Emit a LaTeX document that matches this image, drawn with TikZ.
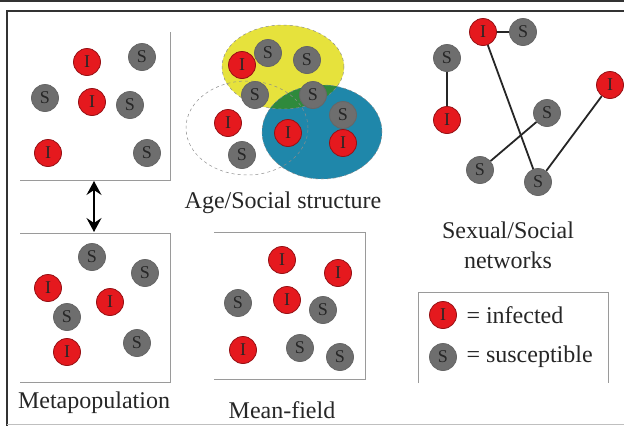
\documentclass[tikz,border=0pt]{standalone}
\usepackage{fontspec}
\setmainfont{Liberation Serif}
\usetikzlibrary{arrows.meta, positioning}
\definecolor{infRed}{HTML}{E5191E}
\definecolor{susGray}{HTML}{6E6E6E}
\definecolor{ageYellow}{HTML}{E6E23C}
\definecolor{ageBlue}{HTML}{1F87AA}
\definecolor{ageGreen}{HTML}{2F8A3C}
\definecolor{boxGray}{HTML}{9A9A9A}
\definecolor{textDark}{HTML}{262626}

\begin{document}
\begin{tikzpicture}[x=1pt, y=-1pt,
    inf/.style={circle, fill=infRed, draw=infRed!65!black, line width=0.8pt,
      minimum size=27pt, inner sep=0pt, font=\fontsize{18}{18}\selectfont, text=textDark},
    sus/.style={circle, fill=susGray, draw=black!60, line width=0.8pt,
      minimum size=27pt, inner sep=0pt, font=\fontsize{18}{18}\selectfont, text=textDark},
    caja/.style={boxGray, line width=1pt},
    grupo/.style={draw=black!45, dashed, line width=0.5pt},
    ar/.style={{Stealth[length=14pt, width=15pt, inset=5pt]}-{Stealth[length=14pt, width=15pt, inset=5pt]}, line width=1.4pt},
    lazo/.style={line width=1.8pt, black!85},
    lbl/.style={font=\fontsize{24}{30}\selectfont, text=textDark, align=center}]
    \useasboundingbox (0,0) rectangle (624,426);
    % marco
    \draw[line width=2pt, black!80] (0,1) -- (624,1);
    \draw[line width=1.6pt, black!80] (624,11) -- (7,11) -- (7,426);
    \draw[black!25, line width=0.8pt] (7,424.5) -- (624,424.5);
    % cajas
    \draw[caja] (170,32) -- (170,180) -- (20,180);
    \draw[caja] (20,233) -- (170,233) -- (170,382) -- (20,382);
    \draw[caja] (214,232) -- (365,232) -- (365,379) -- (214,379);
    \draw[caja] (418,383) -- (418,292) -- (608,292) -- (608,383);
    % estructura por edad
    \fill[ageYellow] (283,67) ellipse [x radius=61pt, y radius=42pt];
    \fill[ageBlue] (322,132) ellipse [x radius=60pt, y radius=47pt];
    \begin{scope}
      \clip (283,67) ellipse [x radius=61pt, y radius=42pt];
      \fill[ageGreen] (322,132) ellipse [x radius=60pt, y radius=47pt];
    \end{scope}
    \draw[grupo] (283,67) ellipse [x radius=61pt, y radius=42pt];
    \draw[grupo] (322,132) ellipse [x radius=60pt, y radius=47pt];
    \draw[grupo] (247,128) ellipse [x radius=61pt, y radius=47pt];
    % metapoblacion arriba
    \node[inf] (m1) at (87,62) {I};
    \node[sus] (m2) at (142,57) {S};
    \node[sus] (m3) at (45,98) {S};
    \node[inf] (m4) at (92,102) {I};
    \node[sus] (m5) at (130,105) {S};
    \node[inf] (m6) at (48,153) {I};
    \node[sus] (m7) at (147,153) {S};
    % metapoblacion abajo
    \node[sus] (p1) at (92,257) {S};
    \node[sus] (p2) at (145,273) {S};
    \node[inf] (p3) at (48,288) {I};
    \node[inf] (p4) at (110,302) {I};
    \node[sus] (p5) at (67,317) {S};
    \node[sus] (p6) at (137,343) {S};
    \node[inf] (p7) at (67,352) {I};
    \coordinate (mtop) at (94,181);
    \coordinate (mbot) at (94,232);
    \draw[ar] (mtop) -- (mbot);
    \node[lbl] (tmeta) at (94,403) {Metapopulation};
    % grupos
    \node[inf] (a1) at (242,65) {I};
    \node[sus] (a2) at (268,53) {S};
    \node[sus] (a3) at (307,60) {S};
    \node[sus] (a4) at (255,95) {S};
    \node[sus] (a5) at (313,95) {S};
    \node[sus] (a6) at (343,115) {S};
    \node[inf] (a7) at (228,123) {I};
    \node[inf] (a8) at (288,133) {I};
    \node[inf] (a9) at (343,143) {I};
    \node[sus] (a10) at (242,155) {S};
    \node[lbl] (tage) at (283,203) {Age/Social structure};
    % campo medio
    \node[inf] (f1) at (282,260) {I};
    \node[inf] (f2) at (338,273) {I};
    \node[sus] (f3) at (238,303) {S};
    \node[inf] (f4) at (287,300) {I};
    \node[sus] (f5) at (323,310) {S};
    \node[inf] (f6) at (243,350) {I};
    \node[sus] (f7) at (300,348) {S};
    \node[sus] (f8) at (340,357) {S};
    \node[lbl] (tmean) at (282,410) {Mean-field};
    % red
    \node[inf] (n1) at (483,32) {I};
    \node[sus] (n2) at (523,32) {S};
    \node[sus] (n3) at (447,58) {S};
    \node[inf] (n4) at (447,120) {I};
    \node[inf] (n5) at (610,85) {I};
    \node[sus] (n6) at (547,113) {S};
    \node[sus] (n7) at (480,170) {S};
    \node[sus] (n8) at (538,182) {S};
    \draw[lazo] (n1) -- (n2);
    \draw[lazo] (n3) -- (n4);
    \draw[lazo] (n1) -- (n8);
    \draw[lazo] (n6) -- (n7);
    \draw[lazo] (n5) -- (n8);
    \node[lbl] (tnet) at (508,245) {Sexual/Social\\networks};
    % leyenda
    \node[inf] (k1) at (443,315) {I};
    \node[sus] (k2) at (443,357) {S};
    \node[lbl, anchor=west] (k1t) at (463,315) {= infected};
    \node[lbl, anchor=west] (k2t) at (463,357) {= susceptible};
  \end{tikzpicture}
\end{document}
